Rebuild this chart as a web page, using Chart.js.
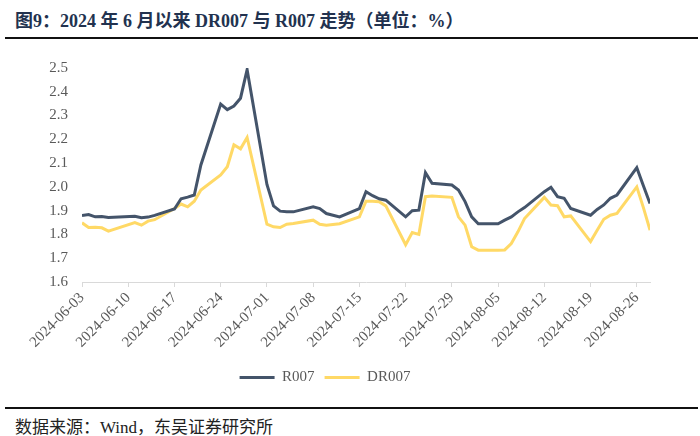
<!DOCTYPE html>
<html>
<head>
<meta charset="utf-8">
<script src="https://cdn.jsdelivr.net/npm/chart.js@4/dist/chart.umd.min.js"></script>
<style>
  html, body { margin: 0; padding: 0; background: #fff; }
  #page { position: relative; width: 700px; height: 436px; overflow: hidden; }
  #title {
    position: absolute; left: 15px; top: 6px;
    font-family: "Liberation Serif", "Noto Sans CJK SC", serif;
    font-weight: bold; font-size: 18px; color: #22324F; white-space: nowrap;
  }
  .rule { position: absolute; left: 5px; width: 693px; height: 2px; background: #111; }
  #source {
    position: absolute; left: 15px; top: 413px;
    font-family: "Liberation Serif", "Noto Sans CJK SC", serif;
    font-size: 17px; color: #222; white-space: nowrap;
  }
  #chart { position: absolute; left: 0; top: 45px; }
</style>
</head>
<body>
<div id="page">
  <div id="title">图9：2024 年 6 月以来 DR007 与 R007 走势（单位：%）</div>
  <div class="rule" style="top:37px"></div>
  <canvas id="chart" width="700" height="355"></canvas>
  <div class="rule" style="top:407px"></div>
  <div id="source">数据来源：Wind，东吴证券研究所</div>
</div>
<script>
// trading days, 2024-06-03 .. 2024-08-28
const dates = [
    "2024-06-03", "2024-06-04", "2024-06-05", "2024-06-06", "2024-06-07",
    "2024-06-11", "2024-06-12", "2024-06-13", "2024-06-14",
    "2024-06-17", "2024-06-18", "2024-06-19", "2024-06-20", "2024-06-21",
    "2024-06-24", "2024-06-25", "2024-06-26", "2024-06-27", "2024-06-28",
    "2024-07-01", "2024-07-02", "2024-07-03", "2024-07-04", "2024-07-05",
    "2024-07-08", "2024-07-09", "2024-07-10", "2024-07-11", "2024-07-12",
    "2024-07-15", "2024-07-16", "2024-07-17", "2024-07-18", "2024-07-19",
    "2024-07-22", "2024-07-23", "2024-07-24", "2024-07-25", "2024-07-26",
    "2024-07-29", "2024-07-30", "2024-07-31", "2024-08-01", "2024-08-02",
    "2024-08-05", "2024-08-06", "2024-08-07", "2024-08-08", "2024-08-09",
    "2024-08-12", "2024-08-13", "2024-08-14", "2024-08-15", "2024-08-16",
    "2024-08-19", "2024-08-20", "2024-08-21", "2024-08-22", "2024-08-23",
    "2024-08-26", "2024-08-27", "2024-08-28"
];

const r007 = [
    1.880, 1.884, 1.874, 1.875, 1.871,
    1.876, 1.870, 1.873, 1.880,
    1.907, 1.950, 1.957, 1.966, 2.092,
    2.348, 2.325, 2.340, 2.373, 2.493,
    2.010, 1.920, 1.898, 1.895, 1.895,
    1.916, 1.909, 1.888, 1.881, 1.874,
    1.909, 1.980, 1.963, 1.950, 1.944,
    1.874, 1.900, 1.902, 2.060, 2.015,
    2.008, 1.987, 1.938, 1.874, 1.845,
    1.845, 1.860, 1.874, 1.895, 1.913,
    1.980, 1.998, 1.959, 1.952, 1.909,
    1.881, 1.905, 1.924, 1.952, 1.966,
    2.081, 2.005, 1.930
];

const dr007 = [
    1.849, 1.829, 1.830, 1.828, 1.814,
    1.850, 1.839, 1.856, 1.862,
    1.909, 1.928, 1.916, 1.940, 1.987,
    2.050, 2.085, 2.177, 2.160, 2.208,
    1.843, 1.832, 1.829, 1.843, 1.846,
    1.860, 1.843, 1.839, 1.842, 1.845,
    1.874, 1.940, 1.940, 1.938, 1.920,
    1.757, 1.808, 1.800, 1.959, 1.962,
    1.956, 1.874, 1.839, 1.748, 1.734,
    1.734, 1.735, 1.762, 1.811, 1.867,
    1.956, 1.924, 1.921, 1.874, 1.878,
    1.770, 1.818, 1.864, 1.881, 1.888,
    2.000, 1.913, 1.818
];

const yTicks = [1.6, 1.7, 1.8, 1.9, 2.0, 2.1, 2.2, 2.3, 2.4, 2.5];

const DAY = 24 * 3600 * 1000;
const startMs = Date.parse(dates[0] + "T00:00:00Z");
const dayOf = d => Math.round((Date.parse(d + "T00:00:00Z") - startMs) / DAY);
const lastDay = dayOf(dates[dates.length - 1]);

function toLabel(day) {
    return new Date(startMs + day * DAY).toISOString().slice(0, 10);
}

const serif = "'Liberation Serif', 'Times New Roman', serif";

new Chart(document.getElementById('chart'), {
    type: 'line',
    data: {
        datasets: [
            {
                label: 'R007',
                data: dates.map((d, i) => ({ x: dayOf(d), y: r007[i] })),
                borderColor: '#44546A',
                backgroundColor: '#44546A',
                borderWidth: 3,
                pointRadius: 0,
                tension: 0
            },
            {
                label: 'DR007',
                data: dates.map((d, i) => ({ x: dayOf(d), y: dr007[i] })),
                borderColor: '#FFD966',
                backgroundColor: '#FFD966',
                borderWidth: 3,
                pointRadius: 0,
                tension: 0
            }
        ]
    },
    options: {
        responsive: false,
        animation: false,
        layout: { padding: { top: 22, right: 50, bottom: 5, left: 0 } },
        plugins: {
            tooltip: { enabled: false },
            legend: {
                position: 'bottom',
                labels: {
                    usePointStyle: true,
                    pointStyle: 'line',
                    pointStyleWidth: 35,
                    boxHeight: 3,
                    padding: 10,
                    color: '#595959',
                    font: { family: serif, size: 15 }
                }
            }
        },
        scales: {
            x: {
                type: 'linear',
                min: 0,
                max: lastDay,
                afterFit: s => { s.height = 78; },
                border: { display: true, color: '#D9D9D9', width: 1 },
                grid: { drawOnChartArea: false, drawTicks: true, tickLength: 5, color: '#D9D9D9' },
                ticks: {
                    stepSize: 7,
                    includeBounds: false,
                    minRotation: 45,
                    maxRotation: 45,
                    autoSkip: false,
                    padding: 2,
                    color: '#595959',
                    font: { family: serif, size: 15 },
                    callback: v => toLabel(v)
                }
            },
            y: {
                min: yTicks[0],
                max: yTicks[yTicks.length - 1],
                afterFit: s => { s.width = 82; },
                afterBuildTicks: s => { s.ticks = yTicks.map(v => ({ value: v })); },
                border: { display: false },
                grid: { display: false, drawTicks: false },
                ticks: {
                    padding: 14,
                    color: '#595959',
                    font: { family: serif, size: 15 },
                    callback: v => v.toFixed(1)
                }
            }
        }
    }
});
</script>
</body>
</html>
